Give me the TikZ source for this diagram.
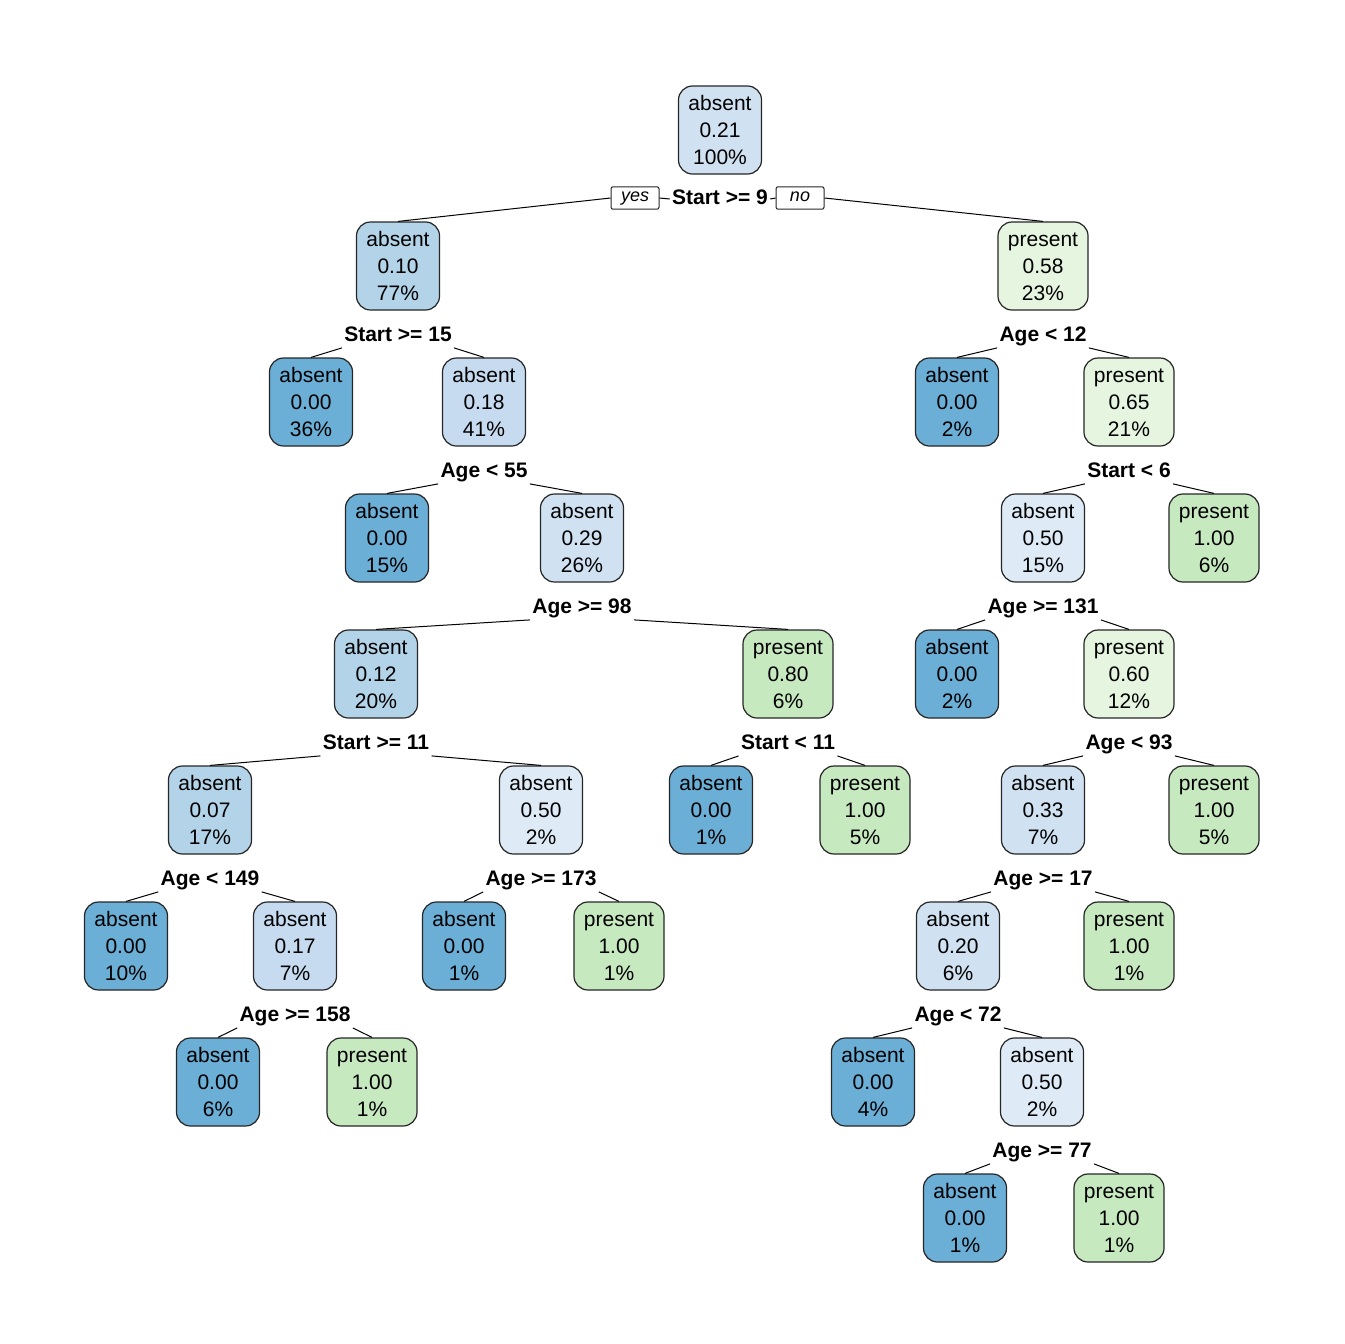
\documentclass[tikz,border=0pt]{standalone}
\usepackage{fontspec}
\setmainfont{Liberation Sans}
\definecolor{cA}{HTML}{6BAED6}
\definecolor{cB}{HTML}{B3D3E8}
\definecolor{cC}{HTML}{C6DBEF}
\definecolor{cD}{HTML}{D0E2F2}
\definecolor{cE}{HTML}{DEEBF7}
\definecolor{gA}{HTML}{E5F5E0}
\definecolor{gB}{HTML}{C7E9C0}
\newcommand{\bxln}[1]{\rule[-2.3pt]{0pt}{12.3pt}#1}
\newcommand{\bx}[3]{\bxln{#1}\\\bxln{#2}\\\bxln{#3}}
\tikzset{
  box/.style={draw=black!85, line width=0.6pt, rounded corners=7pt, align=center,
    font=\fontsize{10.5}{13.5}\selectfont, inner xsep=5pt, inner ysep=0pt,
    minimum height=44pt},
  splitlbl/.style={font=\fontsize{10.5}{12}\selectfont\bfseries, inner xsep=1pt, inner ysep=1pt,
    text height=7.5pt, text depth=2pt, anchor=base},
  yn/.style={draw=black!85, line width=0.5pt, rounded corners=1pt, font=\fontsize{9}{10}\selectfont\itshape,
    minimum width=24pt, inner xsep=0pt, inner ysep=2.2pt, text height=5.2pt, text depth=1.6pt},
  edge/.style={line width=0.5pt, black}
}
\begin{document}
\begin{tikzpicture}[x=0.5pt,y=-0.5pt]
\useasboundingbox (0,0) rectangle (1344,1344);
\def\ra{204.5}\def\rb{341.5}\def\rc{477.5}\def\rd{613.5}\def\re{749.5}\def\rf{885.5}\def\rg{1021.5}\def\rh{1157.5}
% boxes
\node[box, fill=cD] (n1) at (720,130) {\bx{absent}{0.21}{100\%}};
\node[box, fill=cB] (n2) at (398,266) {\bx{absent}{0.10}{77\%}};
\node[box, fill=gA] (n3) at (1043,266) {\bx{present}{0.58}{23\%}};
\node[box, fill=cA] (n4) at (311,402) {\bx{absent}{0.00}{36\%}};
\node[box, fill=cC] (n5) at (484,402) {\bx{absent}{0.18}{41\%}};
\node[box, fill=cA] (n6) at (387,538) {\bx{absent}{0.00}{15\%}};
\node[box, fill=cD] (n7) at (582,538) {\bx{absent}{0.29}{26\%}};
\node[box, fill=cB] (n8) at (376,674) {\bx{absent}{0.12}{20\%}};
\node[box, fill=gB] (n9) at (788,674) {\bx{present}{0.80}{6\%}};
\node[box, fill=cB] (n10) at (210,810) {\bx{absent}{0.07}{17\%}};
\node[box, fill=cE] (n11) at (541,810) {\bx{absent}{0.50}{2\%}};
\node[box, fill=cA] (n12) at (126,946) {\bx{absent}{0.00}{10\%}};
\node[box, fill=cC] (n13) at (295,946) {\bx{absent}{0.17}{7\%}};
\node[box, fill=cA] (n14) at (218,1082) {\bx{absent}{0.00}{6\%}};
\node[box, fill=gB] (n15) at (372,1082) {\bx{present}{1.00}{1\%}};
\node[box, fill=cA] (n16) at (464,946) {\bx{absent}{0.00}{1\%}};
\node[box, fill=gB] (n17) at (619,946) {\bx{present}{1.00}{1\%}};
\node[box, fill=cA] (n18) at (711,810) {\bx{absent}{0.00}{1\%}};
\node[box, fill=gB] (n19) at (865,810) {\bx{present}{1.00}{5\%}};
\node[box, fill=cA] (n20) at (957,402) {\bx{absent}{0.00}{2\%}};
\node[box, fill=gA] (n21) at (1129,402) {\bx{present}{0.65}{21\%}};
\node[box, fill=cE] (n22) at (1043,538) {\bx{absent}{0.50}{15\%}};
\node[box, fill=gB] (n23) at (1214,538) {\bx{present}{1.00}{6\%}};
\node[box, fill=cA] (n24) at (957,674) {\bx{absent}{0.00}{2\%}};
\node[box, fill=gA] (n25) at (1129,674) {\bx{present}{0.60}{12\%}};
\node[box, fill=cD] (n26) at (1043,810) {\bx{absent}{0.33}{7\%}};
\node[box, fill=gB] (n27) at (1214,810) {\bx{present}{1.00}{5\%}};
\node[box, fill=cD] (n28) at (958,946) {\bx{absent}{0.20}{6\%}};
\node[box, fill=gB] (n29) at (1129,946) {\bx{present}{1.00}{1\%}};
\node[box, fill=cA] (n30) at (873,1082) {\bx{absent}{0.00}{4\%}};
\node[box, fill=cE] (n31) at (1042,1082) {\bx{absent}{0.50}{2\%}};
\node[box, fill=cA] (n32) at (965,1218) {\bx{absent}{0.00}{1\%}};
\node[box, fill=gB] (n33) at (1119,1218) {\bx{present}{1.00}{1\%}};
% split labels
\node[splitlbl] (s1) at (720,\ra) {Start >= 9};
\node[yn] (yes) at (635,198) {yes};
\node[yn] (no) at (800,198) {no};
\node[splitlbl] (s2) at (398,\rb) {Start >= 15};
\node[splitlbl] (s5) at (484,\rc) {Age < 55};
\node[splitlbl] (s7) at (582,\rd) {Age >= 98};
\node[splitlbl] (s8) at (376,\re) {Start >= 11};
\node[splitlbl] (s10) at (210,\rf) {Age < 149};
\node[splitlbl] (s13) at (295,\rg) {Age >= 158};
\node[splitlbl] (s11) at (541,\rf) {Age >= 173};
\node[splitlbl] (s9) at (788,\re) {Start < 11};
\node[splitlbl] (s3) at (1043,\rb) {Age < 12};
\node[splitlbl] (s21) at (1129,\rc) {Start < 6};
\node[splitlbl] (s22) at (1043,\rd) {Age >= 131};
\node[splitlbl] (s25) at (1129,\re) {Age < 93};
\node[splitlbl] (s26) at (1043,\rf) {Age >= 17};
\node[splitlbl] (s28) at (958,\rg) {Age < 72};
\node[splitlbl] (s31) at (1042,\rh) {Age >= 77};
% edges
\draw[edge] (yes.east) -- (s1.west);
\draw[edge] (s1.east) -- (no.west);
\draw[edge] (yes.west) -- (n2.north);
\draw[edge] (no.east) -- (n3.north);
\foreach \s/\l/\r in {s2/n4/n5, s5/n6/n7, s7/n8/n9, s8/n10/n11, s10/n12/n13, s13/n14/n15,
  s11/n16/n17, s9/n18/n19, s3/n20/n21, s21/n22/n23, s22/n24/n25, s25/n26/n27,
  s26/n28/n29, s28/n30/n31, s31/n32/n33}{
  \draw[edge] (\s.south west) -- (\l.north);
  \draw[edge] (\s.south east) -- (\r.north);
}
\end{tikzpicture}
\end{document}
